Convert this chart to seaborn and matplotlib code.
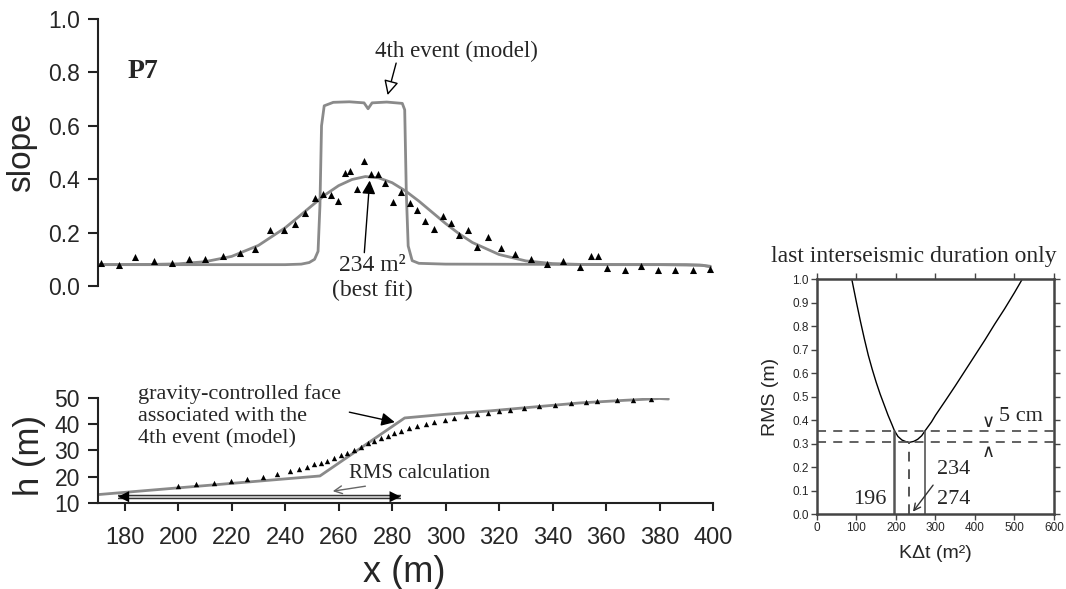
import numpy as np
import pandas as pd
import matplotlib
matplotlib.use("Agg")
import matplotlib.pyplot as plt
import seaborn as sns

# ---------------- data ----------------
# measured slope profile P7 (x in m, slope)
slope_x = [171, 178, 184, 191, 197.5, 204, 210, 216.7, 223, 228.7, 234.4, 239.4, 243.7,
           247.5, 251, 254, 257, 259.7, 262.2, 264.3, 267, 269.5, 272, 274.7, 277.5,
           280.4, 283.5, 286.5, 289.4, 292.4, 295.5, 298.9, 302, 305, 308.4, 311.7, 316,
           320.8, 326, 331.8, 337.8, 344, 350.2, 354.5, 357, 360.4, 367, 373.2, 379.4,
           385.7, 392.5, 399]
slope_y = [0.087, 0.078, 0.107, 0.094, 0.085, 0.100, 0.102, 0.111, 0.124, 0.140, 0.209,
           0.208, 0.233, 0.275, 0.330, 0.345, 0.340, 0.319, 0.424, 0.431, 0.365, 0.470,
           0.419, 0.418, 0.384, 0.313, 0.351, 0.312, 0.283, 0.245, 0.214, 0.261, 0.236,
           0.191, 0.211, 0.148, 0.185, 0.143, 0.120, 0.103, 0.081, 0.095, 0.071, 0.111,
           0.111, 0.068, 0.060, 0.076, 0.060, 0.061, 0.061, 0.064]

# best-fit diffusion model (234 m2)
fit_x = [170, 190, 200, 210, 220, 230, 240, 245, 250, 255, 260, 265, 270, 275, 280, 285,
         290, 295, 300, 305, 310, 320, 330, 340, 350, 360, 380, 395, 399]
fit_y = [0.080, 0.081, 0.083, 0.091, 0.111, 0.152, 0.218, 0.259, 0.301, 0.342, 0.376,
         0.399, 0.410, 0.405, 0.387, 0.356, 0.318, 0.276, 0.234, 0.196, 0.163, 0.118,
         0.094, 0.084, 0.081, 0.080, 0.080, 0.078, 0.074]

# 4th event (model) slope
event_x = [170, 240, 246, 249, 251, 252.3, 253.0, 253.6, 254.6, 258, 264, 269.5, 271,
           272.5, 278, 283.8, 284.7, 285.3, 286, 287.5, 290, 300, 390, 396, 399]
event_y = [0.080, 0.080, 0.082, 0.088, 0.100, 0.130, 0.300, 0.600, 0.675, 0.688, 0.690,
           0.686, 0.664, 0.686, 0.689, 0.684, 0.660, 0.350, 0.150, 0.095, 0.085, 0.082,
           0.080, 0.078, 0.072]

# measured elevation profile
h_x = [200, 206.7, 213.3, 219.7, 225.8, 231.7, 237, 241.7, 245.3, 248.3, 250.8, 253.3,
       255.8, 258.3, 260.8, 263.3, 265.8, 268.3, 270.8, 273.3, 275.8, 278.3, 280.8, 283.3,
       286.3, 289.2, 292.5, 295.8, 299.7, 303.3, 307.5, 311.7, 315.8, 320, 324.2, 329.2,
       335, 340.8, 346.7, 352.5, 356.7, 364.2, 370, 376.7]
h_y = [16.6, 17.2, 17.8, 18.4, 19.1, 19.8, 21.1, 22.2, 23.0, 23.9, 24.8, 25.4, 26.1, 27.0,
       28.2, 29.2, 30.2, 31.4, 32.7, 33.7, 34.8, 35.7, 36.7, 37.5, 38.4, 39.3, 40.0, 40.9,
       41.5, 42.3, 43.0, 43.8, 44.3, 44.9, 45.6, 46.3, 46.9, 47.3, 48.1, 48.5, 48.7, 49.1,
       49.3, 49.7]

# 4th event (model) elevation
model_h_x = [170, 253, 284.7, 300, 316.7, 333.3, 350, 366.7, 380, 383.3]
model_h_y = [13.2, 20.3, 42.4, 43.8, 45.1, 46.6, 48.1, 49.1, 49.8, 49.6]

# RMS calculation window
rms_win = [177.5, 283.2]
rms_win_h = 12.4

# RMS misfit versus K*dt (last interseismic duration only)
rms_k = [88, 100, 110, 120, 130, 140, 150, 160, 170, 180, 190, 196, 205, 215, 225, 234,
         245, 255, 265, 274, 290, 300, 325, 350, 375, 400, 425, 450, 475, 500, 520]
rms_v = [1.0, 0.900, 0.820, 0.745, 0.675, 0.615, 0.560, 0.510, 0.465, 0.420, 0.380, 0.355,
         0.330, 0.315, 0.308, 0.305, 0.309, 0.318, 0.333, 0.355, 0.392, 0.420, 0.482,
         0.545, 0.610, 0.675, 0.740, 0.808, 0.873, 0.942, 1.0]
rms_min, rms_thr = 0.305, 0.355
k_lo, k_best, k_hi = 196, 234, 274

slope_ticks = [0.0, 0.2, 0.4, 0.6, 0.8, 1.0]
x_ticks = [180, 200, 220, 240, 260, 280, 300, 320, 340, 360, 380, 400]
h_ticks = [10, 20, 30, 40, 50]
k_ticks = [0, 100, 200, 300, 400, 500, 600]
rms_ticks = [0.0, 0.1, 0.2, 0.3, 0.4, 0.5, 0.6, 0.7, 0.8, 0.9, 1.0]

# ---------------- style ----------------
sns.set_style("ticks")
SANS = ["Liberation Sans", "DejaVu Sans"]
SERIF = ["Liberation Serif", "DejaVu Serif"]
plt.rcParams["font.family"] = SANS
GRAY = "#8a8a8a"

fig = plt.figure(figsize=(10.66, 5.89), dpi=100)
ax1 = fig.add_axes([0.0919, 0.5144, 0.577, 0.4533])
ax2 = fig.add_axes([0.0919, 0.1460, 0.577, 0.1783])
ax3 = fig.add_axes([0.7664, 0.1273, 0.2223, 0.3990])

# ---------------- top panel: slope ----------------
sns.lineplot(x=event_x, y=event_y, ax=ax1, color=GRAY, lw=2.0, sort=False, estimator=None)
sns.lineplot(x=fit_x, y=fit_y, ax=ax1, color=GRAY, lw=2.0, sort=False, estimator=None)
sns.scatterplot(x=slope_x, y=slope_y, ax=ax1, marker="^", color="black", s=26,
                edgecolor="black", linewidth=0, zorder=5)
ax1.set_xlim(170, 400)
ax1.set_ylim(0, 1.0)
ax1.set_yticks(slope_ticks)
ax1.set_yticklabels([f"{v:.1f}" for v in slope_ticks])
ax1.set_xticks([])
for s in ["top", "right", "bottom"]:
    ax1.spines[s].set_visible(False)
ax1.spines["left"].set_linewidth(1.5)
ax1.spines["left"].set_color("#222222")
ax1.tick_params(axis="y", direction="out", length=7, width=1.5, labelsize=16.5, pad=6,
                color="#222222")
ax1.set_ylabel("slope", fontsize=24, va="center")
ax1.yaxis.set_label_coords(-0.124, 0.5)
ax1.set_xlabel("")

ax1.text(181, 0.805, "P7", fontsize=20, fontweight="bold", family=SERIF,
         va="center", ha="left")
ax1.text(304, 0.877, "4th event (model)", fontsize=16.5, family=SERIF,
         ha="center", va="center")
ax1.annotate("", xy=(278.3, 0.715), xytext=(281.5, 0.835),
             arrowprops=dict(arrowstyle="-|>", fc="white", ec="black", lw=1.0,
                             mutation_scale=22, shrinkA=0, shrinkB=0))
ax1.text(272.5, 0.077, "234 m²", fontsize=17, family=SERIF, ha="center", va="center")
ax1.text(272.5, -0.017, "(best fit)", fontsize=17, family=SERIF, ha="center",
         va="center", clip_on=False)
ax1.annotate("", xy=(271.6, 0.395), xytext=(269.6, 0.125),
             arrowprops=dict(arrowstyle="-|>", fc="black", ec="black", lw=1.0,
                             mutation_scale=20, shrinkA=0, shrinkB=0))

# ---------------- bottom panel: elevation ----------------
sns.lineplot(x=model_h_x, y=model_h_y, ax=ax2, color=GRAY, lw=2.0, sort=False,
             estimator=None)
sns.scatterplot(x=h_x, y=h_y, ax=ax2, marker="^", color="black", s=15,
                edgecolor="black", linewidth=0, zorder=5)
ax2.set_xlim(170, 400)
ax2.set_ylim(10, 50)
ax2.set_xticks(x_ticks)
ax2.set_yticks(h_ticks)
for s in ["top", "right"]:
    ax2.spines[s].set_visible(False)
for s in ["left", "bottom"]:
    ax2.spines[s].set_linewidth(1.5)
    ax2.spines[s].set_color("#222222")
ax2.tick_params(axis="x", direction="out", length=6, width=1.5, labelsize=17, pad=11,
                color="#222222")
ax2.tick_params(axis="y", direction="out", length=7, width=1.5, labelsize=16.5, pad=6,
                color="#222222")
ax2.set_ylabel("h (m)", fontsize=25, va="center")
ax2.yaxis.set_label_coords(-0.112, 0.45)
ax2.set_xlabel("x (m)", fontsize=26, va="center")
ax2.xaxis.set_label_coords(0.498, -0.657)

# double arrow with hollow shaft
ax2.plot(rms_win, [rms_win_h, rms_win_h], color="#333333", lw=3.2,
         solid_capstyle="butt", zorder=3)
ax2.plot(rms_win, [rms_win_h, rms_win_h], color="#d8d8d8", lw=1.2,
         solid_capstyle="butt", zorder=3)
ax2.annotate("", xy=(rms_win[0], rms_win_h), xytext=(rms_win[1], rms_win_h),
             arrowprops=dict(arrowstyle="<|-|>", fc="black", ec="black", lw=0.01,
                             mutation_scale=20, shrinkA=0, shrinkB=0), zorder=4)
ax2.text(264, 21.4, "RMS calculation", fontsize=15, family=SERIF, ha="left",
         va="center")
ax2.annotate("", xy=(257.8, 14.5), xytext=(270, 16.4),
             arrowprops=dict(arrowstyle="->", color="#666666", lw=1.0,
                             mutation_scale=14, shrinkA=0, shrinkB=0))
ax2.text(185, 43, "gravity-controlled face\nassociated with the\n4th event (model)",
         fontsize=16, family=SERIF, ha="left", va="center", linespacing=1.2)
ax2.annotate("", xy=(281, 40.8), xytext=(264, 44.6),
             arrowprops=dict(arrowstyle="-|>", fc="black", ec="black", lw=1.0,
                             mutation_scale=20, shrinkA=0, shrinkB=0))

# ---------------- right panel: RMS ----------------
sns.lineplot(x=rms_k, y=rms_v, ax=ax3, color="black", lw=1.0, sort=False, estimator=None)
ax3.axhline(rms_thr, color="#555555", lw=1.3, ls=(0, (5, 4)))
ax3.axhline(rms_min, color="#555555", lw=1.3, ls=(0, (5, 4)))
ax3.plot([k_lo, k_lo], [0, rms_thr], color="#555555", lw=1.8)
ax3.plot([k_hi, k_hi], [0, rms_thr], color="#555555", lw=1.2)
ax3.plot([k_best, k_best], [0, rms_min], color="#555555", lw=1.4, ls=(0, (5, 4)))
ax3.set_xlim(0, 600)
ax3.set_ylim(0, 1.0)
ax3.set_xticks(k_ticks)
ax3.set_yticks(rms_ticks)
ax3.set_yticklabels([f"{v:.1f}" for v in rms_ticks])
for s in ax3.spines.values():
    s.set_linewidth(1.8)
    s.set_color("#444444")
ax3.tick_params(direction="out", length=4, width=1.0, labelsize=8.5, pad=2,
                top=True, right=True, color="#444444")
ax3.set_xlabel("KΔt (m²)", fontsize=14, va="center")
ax3.xaxis.set_label_coords(0.5, -0.17)
ax3.set_ylabel("RMS (m)", fontsize=14, va="center")
ax3.yaxis.set_label_coords(-0.198, 0.5)
ax3.text(0.41, 1.094, "last interseismic duration only", transform=ax3.transAxes,
         fontsize=17, family=SERIF, ha="center", va="center", clip_on=False)
ax3.text(134, 0.06, str(k_lo), fontsize=16, family=SERIF, ha="center", va="center")
ax3.text(347, 0.19, str(k_best), fontsize=16, family=SERIF, ha="center", va="center")
ax3.text(347, 0.06, str(k_hi), fontsize=16, family=SERIF, ha="center", va="center")
ax3.annotate("", xy=(243, 0.01), xytext=(294, 0.123),
             arrowprops=dict(arrowstyle="->", color="#333333", lw=1.0,
                             mutation_scale=12, shrinkA=0, shrinkB=0))
ax3.text(433, 0.392, "∨", fontsize=13, family=["DejaVu Sans"], ha="center", va="center")
ax3.text(433, 0.262, "∧", fontsize=13, family=["DejaVu Sans"], ha="center", va="center")
ax3.text(461, 0.414, "5 cm", fontsize=16, family=SERIF, ha="left", va="center")

fig.savefig("out.png", dpi=100, facecolor="white")
